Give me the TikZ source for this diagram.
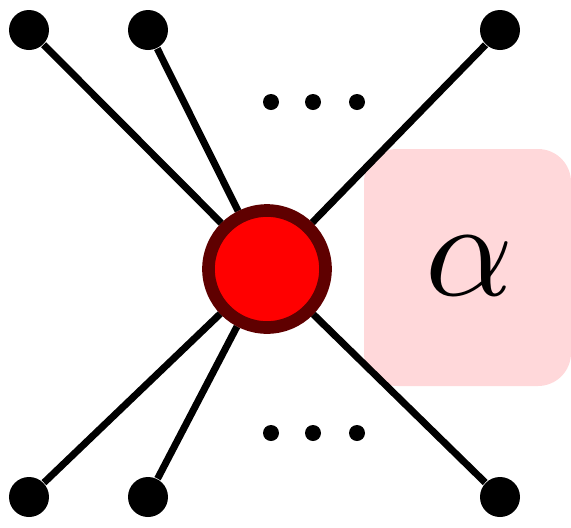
\documentclass[tikz,border=0pt]{standalone}
\usetikzlibrary{backgrounds}
\definecolor{darkred}{RGB}{95,0,0}
\definecolor{boxpink}{RGB}{255,216,218}
\begin{document}
\begin{tikzpicture}[leaf/.style={circle, fill=black, inner sep=0pt, minimum size=0.4cm},
    vert/.style={circle, draw=darkred, fill=red, line width=3.6pt, inner sep=0pt, minimum size=1.17cm},
    dot/.style={circle, fill=black, inner sep=0pt, minimum size=0.16cm}]
        \useasboundingbox (0,0) rectangle (5.71,5.27);
        \coordinate (C) at (2.67,2.58);
        \node[vert] (v) at (C) {};
        % leaves on top and bottom
        \node[leaf] (t1) at (0.29,4.97) {};
        \node[leaf] (t2) at (1.48,4.97) {};
        \node[leaf] (t3) at (5.00,4.97) {};
        \node[leaf] (b1) at (0.29,0.30) {};
        \node[leaf] (b2) at (1.48,0.30) {};
        \node[leaf] (b3) at (5.00,0.30) {};
        \foreach \x [count=\i] in {2.71,3.13,3.57} {
            \node[dot] (tdots\i) at (\x,4.25) {};
            \node[dot] (bdots\i) at (\x,0.94) {};
        }
        \node (lab) at (4.70,2.61) {\scalebox{3.9}{\(\alpha\)}};
        \begin{scope}[on background layer]
            \fill[boxpink, rounded corners=0.33cm] (3.64,1.41) rectangle (5.71,3.78);
            \draw[line width=2pt] (t1)--(v)--(b1);
            \draw[line width=2pt] (t2)--(v)--(b2);
            \draw[line width=2pt] (t3)--(v)--(b3);
        \end{scope}
    \end{tikzpicture}
\end{document}
